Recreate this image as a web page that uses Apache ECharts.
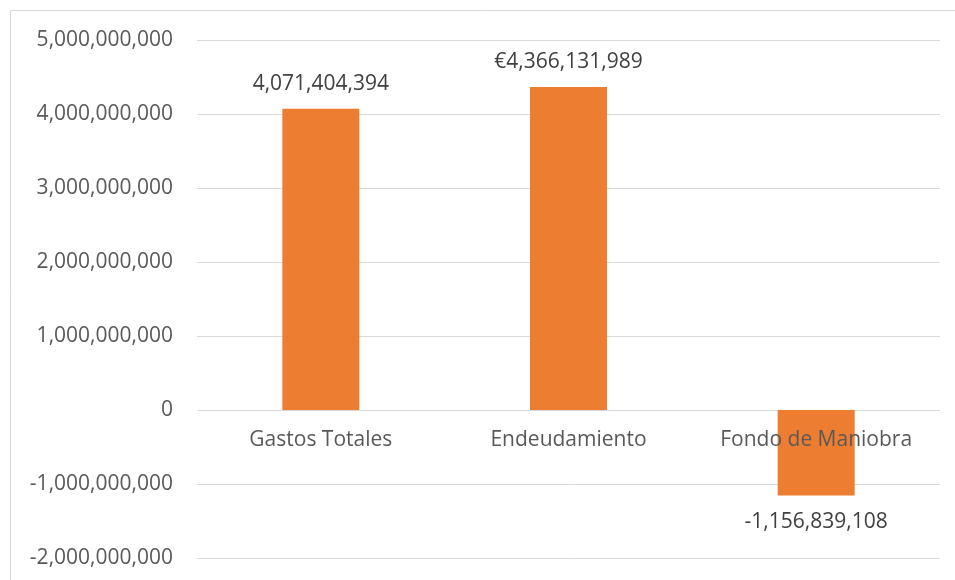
<!DOCTYPE html>
<html>
<head>
<meta charset="utf-8">
<script src="https://cdn.jsdelivr.net/npm/echarts@6/dist/echarts.min.js"></script>
<style>
html,body{margin:0;padding:0;background:#fff;}
#chart{width:955px;height:580px;}
</style>
</head>
<body>
<div id="chart"></div>
<script>
var categories = ['Gastos Totales', 'Endeudamiento', 'Fondo de Maniobra'];
var values = [4071404394, 4366131989, -1156839108];
var labelPrefixes = ['', '€', ''];
var yTicks = [-2000000000, -1000000000, 0, 1000000000, 2000000000, 3000000000, 4000000000, 5000000000];

function fmt(n) {
  var s = Math.abs(Math.round(n)).toString().replace(/\B(?=(\d{3})+(?!\d))/g, ',');
  return (n < 0 ? '-' : '') + s;
}

var FONT = 'Open Sans';
var chart = echarts.init(document.getElementById('chart'));
chart.setOption({
  animation: false,
  backgroundColor: '#ffffff',
  graphic: [{
    type: 'rect',
    shape: {x: 10.5, y: 10.5, width: 960, height: 600},
    style: {fill: 'none', stroke: '#d9d9d9', lineWidth: 1},
    silent: true
  }],
  grid: {left: 197, right: 15, top: 40, bottom: 22, containLabel: false, outerBoundsMode: 'none'},
  xAxis: {
    type: 'category',
    data: categories,
    z: 10,
    offset: -148,
    axisLine: {show: false, onZero: false},
    axisTick: {show: false},
    axisLabel: {color: '#595959', fontSize: 21, fontFamily: FONT, margin: 20, interval: 0}
  },
  yAxis: {
    type: 'value',
    min: yTicks[0],
    max: yTicks[yTicks.length - 1],
    interval: 1000000000,
    axisLine: {show: false},
    axisTick: {show: false},
    splitLine: {lineStyle: {color: '#d9d9d9', width: 1}},
    axisLabel: {color: '#595959', fontSize: 21, fontFamily: FONT, margin: 24, formatter: function (v) { return fmt(v); }}
  },
  series: [{
    type: 'bar',
    barWidth: 77,
    itemStyle: {color: '#ED7D31'},
    data: values.map(function (v, i) {
      return {
        value: v,
        label: {
          show: true,
          position: v < 0 ? 'bottom' : 'top',
          distance: v < 0 ? 16 : 14,
          color: '#404040',
          fontSize: 21,
          fontFamily: FONT,
          formatter: labelPrefixes[i] + fmt(v)
        }
      };
    })
  }]
});
</script>
</body>
</html>
